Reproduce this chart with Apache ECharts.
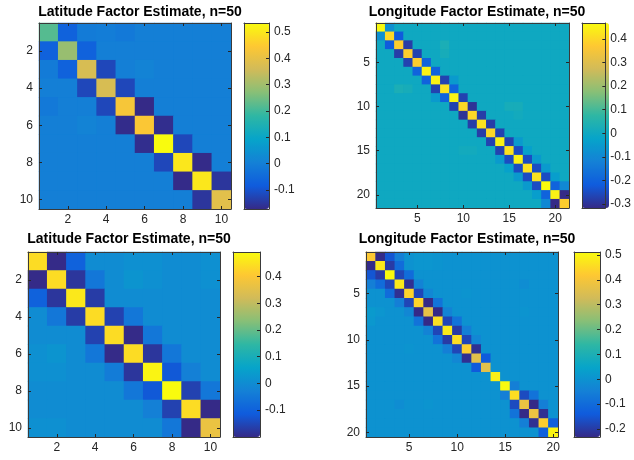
<!DOCTYPE html>
<html><head><meta charset="utf-8">
<script src="https://cdn.jsdelivr.net/npm/echarts@6/dist/echarts.min.js"></script>
<style>html,body{margin:0;padding:0;background:#fff}#c{width:634px;height:460px}</style>
</head><body><div id="c"></div>
<script>
// Tick labels
const latTicks = ['2','4','6','8','10'];
const lonTicks = ['5','10','15','20'];
const cbTicksA = [-0.1,0,0.1,0.2,0.3,0.4,0.5];
const cbTicksB = [-0.3,-0.2,-0.1,0,0.1,0.2,0.3,0.4];
const cbTicksC = [-0.1,0,0.1,0.2,0.3,0.4];
const cbTicksD = [-0.2,-0.1,0,0.1,0.2,0.3,0.4,0.5];
const titles = ['Latitude Factor Estimate, n=50','Longitude Factor Estimate, n=50','Latitude Factor Estimate, n=50','Longitude Factor Estimate, n=50'];

// Matrices (row = y from top, col = x)
const latA = [
[0.22,-0.07,-0.01,-0.005,-0.015,0,0,0,0,0],
[-0.07,0.29,-0.07,0,0,0,0,0,0,0],
[-0.01,-0.07,0.37,-0.12,0,0.01,0,0,0,0],
[0,0,-0.12,0.37,-0.12,0,0,0,0,0],
[-0.015,0,0,-0.12,0.43,-0.172,0,0,0,0],
[0,0,0.01,0,-0.168,0.44,-0.165,0,0,0],
[0,0,0,0,0,-0.165,0.534,-0.12,0,0],
[0,0,0,0,0,0,-0.12,0.50,-0.17,0],
[0,0,0,0,0,0,0,-0.17,0.50,-0.15],
[0,0,0,0,0,0,0,0,-0.15,0.39]
];
const lonA = [
[0.468,-0.08,0,0,0,0,0,0,0,0,0,0,0,0,0,0,0,0,0,0,0],
[-0.08,0.40,-0.22,0,0,0,0,0,0,0,0,0,0,0,0,0,0,0,0,0,0],
[0,-0.22,0.38,-0.28,0,0,0,0.03,0,0,0,0,0,0,0,0,0,0,0,0,0],
[0,0,-0.28,0.38,-0.27,0,0,0.02,0,0,0,0,0,0,0,0,0,0,0,0,0],
[0,0,0,-0.27,0.38,-0.20,0,0,0,0,0,0,0,0,0,0,0,0,0,0,0],
[0,0,0,0,-0.20,0.45,-0.20,0,0,0,0,0,0,0,0,0,0,0,0,0,0],
[0,0,0,0,0,-0.20,0.45,-0.27,-0.05,0,0,0,0,0,0,0,0,0,0,0,0],
[0,0,0.03,0.02,0,0,-0.27,0.42,-0.20,0,0,0,0,0,0,0,0,0,0,0,0],
[0,0,0,0,0,0,-0.05,-0.20,0.45,-0.27,0,0,0,0,0,0,0,0,0,0,0],
[0,0,0,0,0,0,0,0,-0.27,0.40,-0.30,0,0,0,0.02,0.02,0,0,0,0,0],
[0,0,0,0,0,0,0,0,0,-0.30,0.40,-0.28,0,0,0,0.01,0,0,0,0,0],
[0,0,0,0,0,0,0,0,0,0,-0.28,0.42,-0.28,0,0,0,0,0,0,0,0],
[0,0,0,0,0,0,0,0,0,0,0,-0.28,0.40,-0.27,0,0,0,0,0,0,0],
[0,0,0,0,0,0,0,0,0,0,0,0,-0.27,0.45,-0.27,-0.05,0,0,0,0,0],
[0,0,0,0,0,0,0,0,0,0.01,0.01,0,0,-0.27,0.42,-0.25,-0.03,0,0,0,0],
[0,0,0,0,0,0,0,0,0,0,0,0,0,-0.05,-0.25,0.45,-0.25,-0.05,0,0,0],
[0,0,0,0,0,0,0,0,0,0,0,0,0,0,-0.03,-0.25,0.42,-0.25,-0.05,0,0],
[0,0,0,0,0,0,0,0,0,0,0,0,0,0,0,-0.05,-0.25,0.42,-0.25,-0.04,0],
[0,0,0,0,0,0,0,0,0,0,0,0,0,0,0,0,-0.05,-0.25,0.468,-0.20,-0.10],
[0,0,0,0,0,0,0,0,0,0,0,0,0,0,0,0,0,-0.04,-0.20,0.45,-0.317],
[0,0,0,0,0,0,0,0,0,0,0,0,0,0,0,0,0,0,-0.10,-0.317,0.38]
];
const latB = [
[0.44,-0.2,-0.1,0,0,0.01,0.01,0,0,0.01],
[-0.2,0.44,-0.18,-0.05,0,0.02,0.01,0,0,0.01],
[-0.1,-0.18,0.46,-0.17,0,0,0,0,0,0],
[0,-0.05,-0.17,0.44,-0.16,-0.05,0,0,0,0],
[0,0,0,-0.16,0.44,-0.2,-0.05,0,0,0],
[0.01,0.02,0,-0.05,-0.2,0.44,-0.18,-0.05,0,0],
[0.01,0.01,0,0,-0.04,-0.18,0.48,-0.12,-0.03,0],
[0,0,0,0,0,-0.05,-0.12,0.4925,-0.16,-0.05],
[0,0,0,0,0,0,-0.03,-0.16,0.44,-0.201],
[0.01,0.01,0,0,0,0,0,-0.05,-0.201,0.37]
];
const lonB = [
[0.42,-0.23,-0.15,-0.05,0,0.01,0.01,0.005,0,0,0,0,0,0,0,0,0,0,0,0],
[-0.23,0.48,-0.20,-0.10,0,0.01,0.01,0.005,0,0,0,0,0,0,0,0,0,0,0,0],
[-0.15,-0.20,0.512,-0.18,-0.10,0,0,0,0,0,0,0,0,0,0,0,0,0,0,0],
[-0.05,-0.10,-0.18,0.48,-0.22,-0.04,0,0,0,0,0,0,0,0,0,0,-0.015,0,0,0],
[0,0,-0.10,-0.22,0.44,-0.18,-0.03,0,0,0,0.005,0,0,0,0,0,0,0,0,0],
[0,0,0,-0.05,-0.18,0.44,-0.232,-0.08,0,0,0,0,0,0,0,0,0,0,0,0],
[0.02,0.01,0,0,-0.03,-0.232,0.37,-0.232,-0.04,0,0,0,0,0,0,0,0.005,0,0,0],
[0.015,0,0,0,0,-0.08,-0.232,0.46,-0.18,-0.08,0,0,0,0,0,0,0,0,0,0],
[0,0,0,0,0,0,-0.04,-0.18,0.48,-0.20,-0.05,0,0,0,0,0,0,0,0,0],
[0,0,0,0,0,0,0,-0.08,-0.20,0.46,-0.18,-0.03,0,0,0,0,0,0,0,0],
[0,0,0,0,0.005,0,0,0,-0.05,-0.18,0.43,-0.22,0,0,0,0,0,0,0,0],
[0,0,0,0,0,0,0,0,0,-0.03,-0.22,0.36,-0.14,0,0,0,0,0,0,0],
[0,0,0,0,0,0,0,0,0,0,0,-0.14,0.36,0,0,0,0,0,0,0],
[0,0,0,0,0,0,0,0,0,0,0,0,0,0.49,0,0,0,0,0,0],
[0,0,0,0,0,0,0,0,0,0,0,0,0,0,0.51,-0.05,0,0,0,0],
[0,0,0,0,0,0,0,0,0,0,0,0,0,0,-0.05,0.46,-0.17,-0.08,0,0],
[0,0,0,-0.015,0,0,0.005,0,0,0,0,0,0,0,0,-0.17,0.38,-0.232,-0.05,0],
[0,0,0,0,0,0,0,0,0,0,0,0,0,0,0,-0.08,-0.232,0.38,-0.22,0],
[0,0,0,0,0,0,0,0,0,0,0,0,0,0,0,0,-0.05,-0.22,0.43,-0.13],
[0,0,0,0,0,0,0,0,0,0,0,0,0,0,0,0,0,0,-0.13,0.50]
];

const parula = ['#352a87','#0f5cdd','#1481d6','#06a4ca','#2eb7a4','#87bf77','#d1bb59','#fec832','#f9fb0e'];
const FONT = 'Liberation Sans, Arial, Helvetica, sans-serif';
const INK = '#262626';

const panels = [
  {title:titles[0], mat:latA, ticks:latTicks, cb:cbTicksA, bg:'#1480d6', plot:{left:39,top:23,width:192,height:186}, bar:{left:244,top:23,width:25,height:186}, tx:135, ty:0},
  {title:titles[1], mat:lonA, ticks:lonTicks, cb:cbTicksB, bg:'#0fa8c1', plot:{left:376,top:23,width:193,height:185}, bar:{left:582,top:23,width:27,height:185}, tx:472, ty:0},
  {title:titles[2], mat:latB, ticks:latTicks, cb:cbTicksC, bg:'#108cd2', plot:{left:28,top:252,width:192,height:185}, bar:{left:233,top:252,width:27,height:185}, tx:124, ty:227},
  {title:titles[3], mat:lonB, ticks:lonTicks, cb:cbTicksD, bg:'#0d93d0', plot:{left:366,top:252,width:192,height:185}, bar:{left:574,top:252,width:26,height:185}, tx:462, ty:227}
];

const option = {animation:false, textStyle:{fontFamily:FONT}, title:[], grid:[], xAxis:[], yAxis:[], visualMap:[], series:[]};
const line = {show:true, onZero:false, lineStyle:{color:'#3a3a3a', width:1}};

panels.forEach((p,k)=>{
  const n = p.mat.length;
  const cats = Array.from({length:n},(_,i)=>String(i+1));
  const data = [];
  p.mat.forEach((row,r)=>row.forEach((v,c)=>data.push([c,r,v])));
  const flat = p.mat.flat();
  const lo = Math.min(...flat), hi = Math.max(...flat);
  const gP = option.grid.length;
  option.grid.push(Object.assign({containLabel:false, show:true, backgroundColor:p.bg, borderWidth:0}, p.plot));
  const gB = gP+1;
  option.grid.push(Object.assign({containLabel:false}, p.bar));
  const sel = (i,v)=>p.ticks.indexOf(String(v))>=0 || p.ticks.indexOf(cats[i])>=0;
  const tick = {show:true, inside:true, length:3, interval:sel, alignWithLabel:true, lineStyle:{color:INK}};
  const xi = option.xAxis.length;
  option.xAxis.push({type:'category', gridIndex:gP, data:cats, position:'bottom', axisLine:line, axisTick:tick,
    axisLabel:{interval:sel, color:INK, fontSize:12, margin:5, fontFamily:FONT}, splitLine:{show:false}, z:5});
  option.xAxis.push({type:'category', gridIndex:gP, data:cats, position:'top', axisLine:line, axisTick:tick,
    axisLabel:{show:false}, splitLine:{show:false}, z:5});
  option.xAxis.push({type:'category', gridIndex:gB, data:[''], position:'bottom', axisLine:line, axisTick:{show:false}, axisLabel:{show:false}, z:5});
  option.xAxis.push({type:'category', gridIndex:gB, data:[''], position:'top', axisLine:line, axisTick:{show:false}, axisLabel:{show:false}, z:5});
  const yi = option.yAxis.length;
  option.yAxis.push({type:'category', gridIndex:gP, data:cats, inverse:true, position:'left', axisLine:line, axisTick:tick,
    axisLabel:{interval:sel, color:INK, fontSize:12, margin:6, fontFamily:FONT}, splitLine:{show:false}, z:5});
  option.yAxis.push({type:'category', gridIndex:gP, data:cats, inverse:true, position:'right', axisLine:line, axisTick:tick,
    axisLabel:{show:false}, splitLine:{show:false}, z:5});
  option.yAxis.push({type:'value', gridIndex:gB, min:lo, max:hi, position:'left', axisLine:line, axisTick:{show:false}, axisLabel:{show:false}, splitLine:{show:false}, z:5});
  option.yAxis.push({type:'value', gridIndex:gB, min:lo, max:hi, position:'right', axisLine:line,
    axisTick:{show:true, inside:true, length:3, customValues:p.cb, lineStyle:{color:INK}},
    axisLabel:{customValues:p.cb, color:INK, fontSize:12, margin:5, fontFamily:FONT}, splitLine:{show:false}, z:5});
  option.series.push({type:'heatmap', xAxisIndex:xi, yAxisIndex:yi, data:data, itemStyle:{borderWidth:0}, emphasis:{disabled:true}, progressive:0});
  option.visualMap.push({type:'continuous', seriesIndex:k, min:lo, max:hi, calculable:false, hoverLink:false, orient:'vertical',
    left:p.bar.left, top:p.bar.top, itemWidth:p.bar.width, itemHeight:p.bar.height, padding:0, text:null, showLabel:false,
    inRange:{color:parula}, textStyle:{color:'transparent'}});
  option.title.push({text:p.title, left:p.tx, top:p.ty, textAlign:'center',
    textStyle:{fontSize:14, fontWeight:'bold', color:'#000', fontFamily:FONT}});
});

const chart = echarts.init(document.getElementById('c'), null, {renderer:'canvas'});
chart.setOption(option);
</script>
</body></html>
